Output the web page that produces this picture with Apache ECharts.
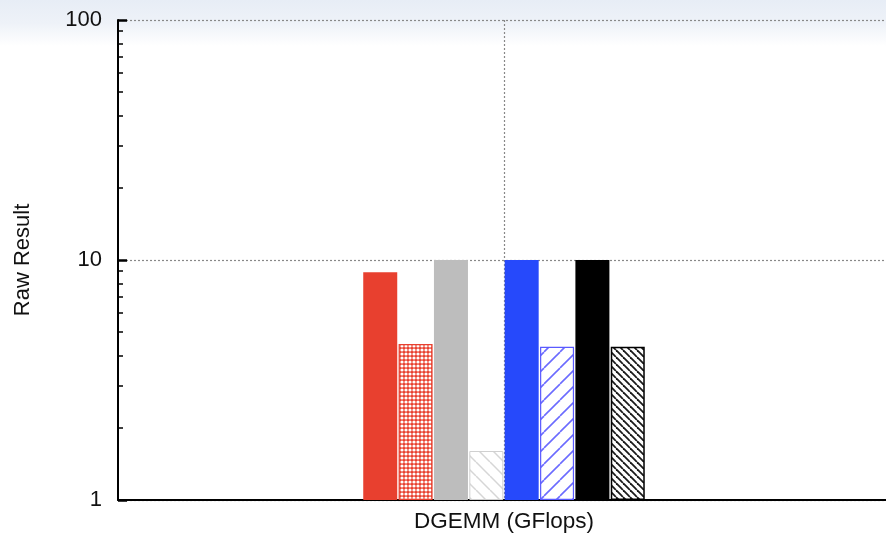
<!DOCTYPE html>
<html>
<head>
<meta charset="utf-8">
<script src="https://cdn.jsdelivr.net/npm/echarts@6/dist/echarts.min.js"></script>
<style>
  html, body { margin: 0; padding: 0; background: #ffffff; }
  #chart { width: 886px; height: 538px; }
</style>
</head>
<body>
<div id="chart"></div>
<script>
// Benchmark category and raw results (log scale)
const categories = ['DGEMM (GFlops)'];
const seriesNames = ['Run 1', 'Run 2', 'Run 3', 'Run 4', 'Run 5', 'Run 6', 'Run 7', 'Run 8'];
const seriesValues = [8.9, 4.47, 10, 1.6, 10, 4.35, 10, 4.35];
const majorTicks = [1, 10, 100];
const minorTicks = [2, 3, 4, 5, 6, 7, 8, 9, 20, 30, 40, 50, 60, 70, 80, 90];

// Build repeating canvas patterns for the hatched bars
function diagPattern(bg, fg, size, width, dir) {
  const c = document.createElement('canvas');
  c.width = size; c.height = size;
  const g = c.getContext('2d');
  g.fillStyle = bg; g.fillRect(0, 0, size, size);
  g.strokeStyle = fg; g.lineWidth = width;
  for (let k = -1; k <= 1; k++) {
    g.beginPath();
    if (dir === '/') {
      g.moveTo(k * size, size); g.lineTo(k * size + size, 0);
    } else {
      g.moveTo(k * size, 0); g.lineTo(k * size + size, size);
    }
    g.stroke();
  }
  return { image: c, repeat: 'repeat' };
}
function dotPattern(bg, fg, size, r) {
  const c = document.createElement('canvas');
  c.width = size; c.height = size;
  const g = c.getContext('2d');
  g.fillStyle = bg; g.fillRect(0, 0, size, size);
  g.fillStyle = fg;
  g.beginPath(); g.arc(size / 2, size / 2, r, 0, Math.PI * 2); g.fill();
  return { image: c, repeat: 'repeat' };
}

const barStyles = [
  { color: '#e8402f', borderColor: '#e8402f', borderWidth: 0 },
  { color: dotPattern('#e8402f', '#ffffff', 4, 1.6), borderColor: '#e8402f', borderWidth: 1.2 },
  { color: '#bdbdbd', borderColor: '#bdbdbd', borderWidth: 0 },
  { color: diagPattern('#ffffff', '#d6d6d6', 14, 1.5, '\\'), borderColor: '#d0d0d0', borderWidth: 1 },
  { color: '#2649fb', borderColor: '#2649fb', borderWidth: 0 },
  { color: diagPattern('#ffffff', '#6b6bff', 16, 1.6, '/'), borderColor: '#5a5aff', borderWidth: 1.2 },
  { color: '#000000', borderColor: '#000000', borderWidth: 0 },
  { color: diagPattern('#ffffff', '#1a1a1a', 7, 1.8, '\\'), borderColor: '#000000', borderWidth: 1.5 }
];

const chart = echarts.init(document.getElementById('chart'), null, { renderer: 'canvas' });

const series = seriesValues.map((v, i) => ({
  name: seriesNames[i],
  type: 'bar',
  barWidth: 34,
  barGap: '4%',
  barCategoryGap: '60%',
  data: [v],
  itemStyle: barStyles[i],
  emphasis: { disabled: true }
}));

chart.setOption({
  animation: false,
  backgroundColor: '#ffffff',
  textStyle: { fontFamily: 'Liberation Sans, Arial, sans-serif' },
  graphic: [{
    type: 'rect',
    z: -10,
    silent: true,
    shape: { x: 0, y: 0, width: 886, height: 46 },
    style: {
      fill: {
        type: 'linear', x: 0, y: 0, x2: 0, y2: 1,
        colorStops: [
          { offset: 0, color: '#e7edf6' },
          { offset: 0.5, color: '#eef2f8' },
          { offset: 1, color: '#ffffff' }
        ]
      }
    }
  }],
  grid: { left: 118, width: 772, top: 20, bottom: 38, containLabel: false, outerBoundsMode: 'none' },
  xAxis: {
    type: 'category',
    data: categories,
    axisLine: { show: true, lineStyle: { color: '#000', width: 2 } },
    axisTick: { show: false },
    axisLabel: { color: '#111', fontSize: 22.5, margin: 10 },
    splitLine: {
      show: true,
      alignWithLabel: true,
      lineStyle: { color: '#888', type: [2, 2], width: 1.2 }
    }
  },
  yAxis: [{
    type: 'log',
    logBase: 10,
    min: 1,
    max: 100,
    name: 'Raw Result',
    nameLocation: 'middle',
    nameGap: 84,
    nameTextStyle: { color: '#111', fontSize: 22 },
    axisLine: { show: true, lineStyle: { color: '#000', width: 2 } },
    axisTick: { show: true, inside: true, length: 9, lineStyle: { color: '#000', width: 2.5 } },
    axisLabel: { color: '#111', fontSize: 22, margin: 16, customValues: majorTicks },
    splitLine: { show: true, lineStyle: { color: '#888', type: [2, 2], width: 1.2 } },
    minorTick: { show: false }
  }, {
    type: 'log',
    logBase: 10,
    min: 1,
    max: 100,
    position: 'left',
    axisLine: { show: false },
    axisTick: { show: true, inside: true, length: 5, customValues: minorTicks, lineStyle: { color: '#000', width: 1.5 } },
    axisLabel: { show: false },
    splitLine: { show: false }
  }],
  series: series
});
</script>
</body>
</html>
